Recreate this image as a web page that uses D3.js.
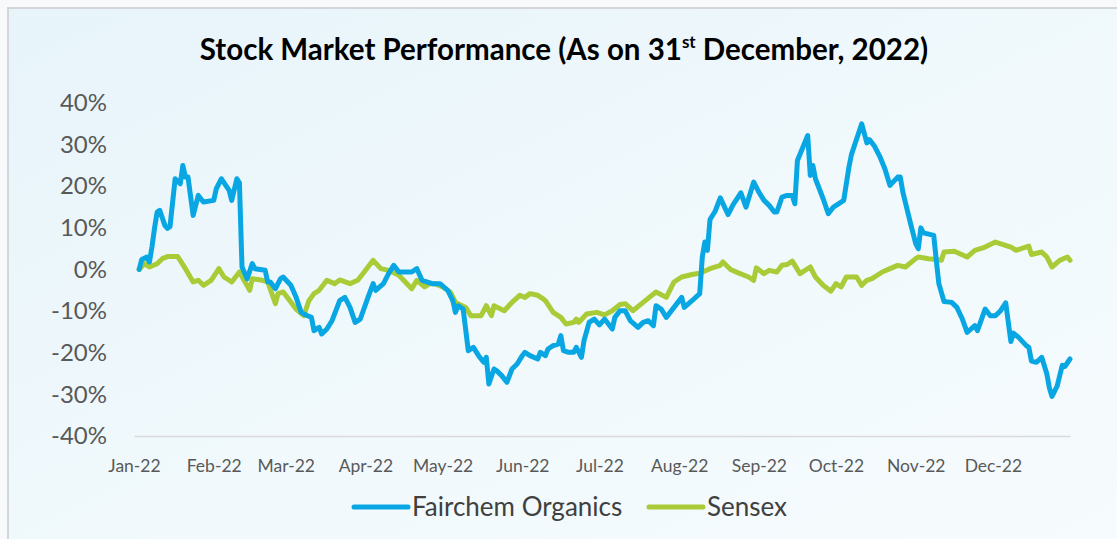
<!DOCTYPE html>
<html>
<head>
  <meta charset="utf-8">
  <style>
    body { margin: 0; background: #fff; font-family: 'Lato', sans-serif; }
    .tick text { fill: #595959; }
    .title { font-weight: bold; fill: #000; text-anchor: middle; }
    .legend-text { fill: #404040; font-size: 26px; }
  </style>
</head>
<body>
  <script src="https://cdn.jsdelivr.net/npm/d3@7"></script>
  <script>

  // data (returns in %)
  var months = ["Jan-22","Feb-22","Mar-22","Apr-22","May-22","Jun-22","Jul-22","Aug-22","Sep-22","Oct-22","Nov-22","Dec-22"]
  var yTicks = [-40,-30,-20,-10,0,10,20,30,40]
  var seriesNames = ["Fairchem Organics","Sensex"]

  var fairchem = [
    ["2022-01-03",0.0],["2022-01-04",2.4],["2022-01-06",3.0],["2022-01-07",1.8],["2022-01-08",5.5],["2022-01-09",10.0],
    ["2022-01-10",13.8],["2022-01-11",14.2],["2022-01-13",10.6],["2022-01-14",9.9],["2022-01-15",10.3],["2022-01-17",21.8],
    ["2022-01-19",20.6],["2022-01-20",25.0],["2022-01-21",22.2],["2022-01-22",22.2],["2022-01-24",13.0],["2022-01-26",17.8],
    ["2022-01-28",16.2],["2022-02-01",16.6],["2022-02-02",19.4],["2022-02-04",21.8],["2022-02-07",19.0],["2022-02-08",16.6],
    ["2022-02-10",21.8],["2022-02-11",20.8],["2022-02-12",0.6],["2022-02-14",-2.2],["2022-02-16",1.4],["2022-02-17",0.2],
    ["2022-02-21",-0.2],["2022-02-22",-3.0],["2022-02-23",-3.0],["2022-02-25",-4.6],["2022-02-27",-2.2],["2022-02-28",-1.8],
    ["2022-03-03",-3.8],["2022-03-05",-6.6],["2022-03-07",-10.3],["2022-03-09",-11.0],["2022-03-11",-11.5],["2022-03-12",-14.7],
    ["2022-03-14",-13.9],["2022-03-15",-15.5],["2022-03-17",-14.3],["2022-03-19",-12.3],["2022-03-22",-7.5],["2022-03-24",-6.7],
    ["2022-03-26",-9.1],["2022-03-28",-12.7],["2022-03-30",-11.9],["2022-04-02",-6.7],["2022-04-04",-3.4],["2022-04-05",-5.0],
    ["2022-04-08",-3.4],["2022-04-10",-1.0],["2022-04-12",1.0],["2022-04-14",-0.6],["2022-04-19",-0.6],["2022-04-21",0.2],
    ["2022-04-23",-2.6],["2022-04-27",-3.4],["2022-04-30",-3.4],["2022-05-03",-5.0],["2022-05-05",-7.5],["2022-05-06",-10.3],
    ["2022-05-07",-8.7],["2022-05-09",-9.5],["2022-05-11",-19.5],["2022-05-13",-18.7],["2022-05-15",-20.7],["2022-05-17",-22.3],
    ["2022-05-18",-21.1],["2022-05-19",-27.5],["2022-05-21",-23.9],["2022-05-22",-24.3],["2022-05-24",-25.5],["2022-05-26",-27.1],
    ["2022-05-28",-23.9],["2022-05-30",-22.7],["2022-06-01",-20.7],["2022-06-02",-19.9],["2022-06-04",-20.7],["2022-06-07",-21.5],
    ["2022-06-08",-19.9],["2022-06-10",-20.7],["2022-06-11",-19.1],["2022-06-13",-18.3],["2022-06-15",-17.9],["2022-06-16",-15.9],
    ["2022-06-17",-19.5],["2022-06-19",-19.9],["2022-06-21",-19.9],["2022-06-22",-18.7],["2022-06-24",-21.1],["2022-06-25",-17.1],
    ["2022-06-27",-12.7],["2022-06-29",-11.9],["2022-07-01",-13.3],["2022-07-03",-11.9],["2022-07-06",-14.3],["2022-07-07",-11.5],
    ["2022-07-09",-9.9],["2022-07-11",-9.9],["2022-07-13",-12.3],["2022-07-16",-13.9],["2022-07-18",-12.7],["2022-07-20",-12.3],
    ["2022-07-22",-13.5],["2022-07-23",-8.7],["2022-07-25",-9.5],["2022-07-27",-11.5],["2022-07-30",-9.1],["2022-08-02",-6.7],
    ["2022-08-03",-9.1],["2022-08-06",-7.5],["2022-08-09",-5.8],["2022-08-10",3.0],["2022-08-11",6.6],["2022-08-12",4.6],
    ["2022-08-13",12.0],["2022-08-15",14.0],["2022-08-17",17.2],["2022-08-20",13.2],["2022-08-22",15.6],["2022-08-25",18.4],
    ["2022-08-27",15.0],["2022-08-30",21.0],["2022-09-01",18.6],["2022-09-03",16.6],["2022-09-05",15.4],["2022-09-07",13.8],
    ["2022-09-08",13.8],["2022-09-10",17.4],["2022-09-12",17.8],["2022-09-14",17.8],["2022-09-15",15.8],["2022-09-16",26.2],
    ["2022-09-20",32.2],["2022-09-21",22.6],["2022-09-22",25.0],["2022-09-23",21.8],["2022-09-26",17.0],["2022-09-28",13.4],
    ["2022-09-30",15.0],["2022-10-03",16.2],["2022-10-04",16.6],["2022-10-06",24.5],["2022-10-07",27.6],["2022-10-11",35.0],
    ["2022-10-13",30.4],["2022-10-14",31.2],["2022-10-16",29.6],["2022-10-18",27.2],["2022-10-20",24.2],["2022-10-22",20.2],
    ["2022-10-25",22.2],["2022-10-26",22.2],["2022-10-27",18.6],["2022-10-30",11.0],["2022-11-01",6.2],["2022-11-02",5.0],
    ["2022-11-03",10.0],["2022-11-04",8.8],["2022-11-08",8.2],["2022-11-09",2.2],["2022-11-10",-3.4],["2022-11-12",-7.7],
    ["2022-11-15",-7.9],["2022-11-17",-9.1],["2022-11-19",-11.7],["2022-11-21",-15.1],["2022-11-24",-13.5],["2022-11-25",-14.7],
    ["2022-11-28",-9.5],["2022-11-30",-11.1],["2022-12-02",-11.1],["2022-12-04",-9.9],["2022-12-06",-8.0],["2022-12-08",-17.3],
    ["2022-12-09",-15.3],["2022-12-11",-16.3],["2022-12-14",-18.3],["2022-12-15",-18.7],["2022-12-16",-22.0],["2022-12-18",-22.3],
    ["2022-12-20",-21.1],["2022-12-22",-25.1],["2022-12-23",-28.5],["2022-12-24",-30.5],["2022-12-26",-28.0],["2022-12-28",-23.0],
    ["2022-12-29",-23.3],["2022-12-31",-21.5]
  ]

  var sensex = [
    ["2022-01-03",0.0],["2022-01-05",1.4],["2022-01-07",0.6],["2022-01-10",1.4],["2022-01-12",2.6],["2022-01-14",3.1],
    ["2022-01-18",3.1],["2022-01-21",0.2],["2022-01-24",-3.0],["2022-01-26",-2.6],["2022-01-28",-3.8],["2022-01-31",-2.6],
    ["2022-02-03",0.2],["2022-02-05",-1.8],["2022-02-08",-3.0],["2022-02-11",-0.6],["2022-02-15",-5.0],["2022-02-16",-2.2],
    ["2022-02-20",-2.6],["2022-02-22",-3.0],["2022-02-25",-8.2],["2022-02-26",-5.8],["2022-02-28",-5.4],["2022-03-02",-7.0],
    ["2022-03-05",-9.5],["2022-03-08",-11.1],["2022-03-10",-7.5],["2022-03-12",-5.8],["2022-03-14",-5.0],["2022-03-17",-2.6],
    ["2022-03-20",-3.4],["2022-03-22",-2.5],["2022-03-26",-3.4],["2022-03-29",-2.6],["2022-03-31",-1.0],["2022-04-04",2.2],
    ["2022-04-07",0.2],["2022-04-10",-0.2],["2022-04-14",-1.4],["2022-04-19",-4.6],["2022-04-21",-2.6],["2022-04-24",-4.2],
    ["2022-04-26",-3.4],["2022-04-28",-3.4],["2022-05-01",-4.2],["2022-05-04",-5.4],["2022-05-06",-7.9],["2022-05-10",-9.1],
    ["2022-05-12",-11.1],["2022-05-16",-11.1],["2022-05-18",-8.7],["2022-05-20",-11.1],["2022-05-21",-8.7],["2022-05-25",-9.9],
    ["2022-05-28",-7.9],["2022-05-31",-6.2],["2022-06-02",-6.7],["2022-06-04",-5.8],["2022-06-07",-6.2],["2022-06-09",-7.0],
    ["2022-06-10",-7.5],["2022-06-13",-10.3],["2022-06-16",-11.5],["2022-06-18",-13.1],["2022-06-21",-12.7],["2022-06-22",-11.9],
    ["2022-06-23",-12.7],["2022-06-26",-10.7],["2022-06-30",-10.3],["2022-07-03",-10.9],["2022-07-06",-9.9],["2022-07-09",-8.4],
    ["2022-07-11",-8.2],["2022-07-14",-9.9],["2022-07-18",-7.9],["2022-07-23",-5.4],["2022-07-27",-6.7],["2022-07-30",-3.0],
    ["2022-08-02",-1.8],["2022-08-06",-1.2],["2022-08-09",-0.9],["2022-08-13",0.2],["2022-08-17",1.0],["2022-08-18",1.8],
    ["2022-08-21",0.0],["2022-08-24",-0.8],["2022-08-28",-1.8],["2022-08-30",-2.6],["2022-08-31",0.4],["2022-09-03",-1.0],
    ["2022-09-05",-0.2],["2022-09-08",-0.6],["2022-09-10",1.0],["2022-09-12",1.2],["2022-09-14",2.0],["2022-09-17",-1.0],
    ["2022-09-21",0.6],["2022-09-23",-1.8],["2022-09-26",-3.8],["2022-09-29",-5.2],["2022-10-01",-3.4],["2022-10-03",-4.2],
    ["2022-10-05",-1.8],["2022-10-09",-1.8],["2022-10-11",-3.8],["2022-10-13",-2.6],["2022-10-15",-2.2],["2022-10-19",-0.6],
    ["2022-10-22",0.2],["2022-10-25",1.0],["2022-10-28",0.6],["2022-11-01",2.6],["2022-11-02",3.0],["2022-11-06",2.6],
    ["2022-11-09",2.4],["2022-11-11",2.2],["2022-11-12",4.2],["2022-11-16",4.4],["2022-11-21",3.0],["2022-11-24",4.6],
    ["2022-11-28",5.4],["2022-12-02",6.6],["2022-12-05",6.0],["2022-12-08",5.4],["2022-12-10",4.6],["2022-12-15",5.6],
    ["2022-12-16",3.6],["2022-12-20",4.2],["2022-12-22",3.0],["2022-12-24",0.6],["2022-12-27",2.2],["2022-12-30",3.0],
    ["2022-12-31",2.2]
  ]

  var colors = ["#08a7e4", "#a9cb37"]

  // set constants
  var width = 1117
  var height = 539
  var parse = d3.timeParse("%Y-%m-%d")
  var x = d3.scaleTime()
    .domain([parse("2022-01-01"), parse("2022-12-31")])
    .range([134, 1070])
  var y = d3.scaleLinear()
    .domain([-40, 40])
    .range([436, 103])

  var svg = d3.select("body").append("svg")
    .attr("width", width)
    .attr("height", height)

  // background panel
  var defs = svg.append("defs")
  var grad = defs.append("linearGradient")
    .attr("id", "bg")
    .attr("x1", 0).attr("y1", 0).attr("x2", 1).attr("y2", 1)
  grad.append("stop").attr("offset", "0%").attr("stop-color", "#e7f4fa")
  grad.append("stop").attr("offset", "55%").attr("stop-color", "#f1f9fc")
  grad.append("stop").attr("offset", "100%").attr("stop-color", "#f6fbfd")

  svg.append("rect")
    .attr("x", 0).attr("y", 0)
    .attr("width", width).attr("height", height)
    .attr("fill", "#f7f9fa")
  svg.append("rect")
    .attr("x", 8).attr("y", 8)
    .attr("width", width).attr("height", height)
    .attr("fill", "url(#bg)")
    .attr("stroke", "#d3d6d8")
    .attr("stroke-width", 2)

  // title
  var title = svg.append("text")
    .attr("class", "title")
    .attr("x", 564)
    .attr("y", 60)
    .style("font-size", "29.5px")
  title.append("tspan").text("Stock Market Performance (As on 31")
  title.append("tspan").text("st").attr("dy", -12).style("font-size", "17px")
  title.append("tspan").text(" December, 2022)").attr("dy", 12)

  // y axis labels
  var yAxis = svg.append("g")
    .attr("transform", "translate(134,0)")
    .call(d3.axisLeft(y).tickValues(yTicks).tickSize(0).tickPadding(27)
      .tickFormat(function(d) { return d + "%" }))
  yAxis.select(".domain").remove()
  yAxis.selectAll("text").style("font-size", "24px").style("font-family", "Lato")

  // x axis
  var xAxis = svg.append("g")
    .attr("transform", "translate(0," + y(-40) + ")")
    .call(d3.axisBottom(x)
      .tickValues(months.map(function(m, i) { return new Date(2022, i, 1) }))
      .tickSize(0).tickPadding(24)
      .tickFormat(function(d, i) { return months[i] }))
  xAxis.select(".domain").attr("stroke", "#d9d9d9").attr("stroke-width", 1.5)
  xAxis.selectAll("text").style("font-size", "17.5px").style("font-family", "Lato")

  // lines
  var line = d3.line()
    .x(function(d) { return x(parse(d[0])) })
    .y(function(d) { return y(d[1]) })

  ;[sensex, fairchem].forEach(function(s, i) {
    svg.append("path")
      .datum(s)
      .attr("fill", "none")
      .attr("stroke", colors[1 - i])
      .attr("stroke-width", 5)
      .attr("stroke-linejoin", "round")
      .attr("stroke-linecap", "round")
      .attr("d", line)
  })

  // legend
  var legendX = [354, 649]
  var legend = svg.append("g")
  seriesNames.forEach(function(name, i) {
    legend.append("line")
      .attr("x1", legendX[i]).attr("x2", legendX[i] + 54)
      .attr("y1", 507).attr("y2", 507)
      .attr("stroke", colors[i])
      .attr("stroke-width", 5)
      .attr("stroke-linecap", "round")
    legend.append("text")
      .attr("class", "legend-text")
      .attr("x", legendX[i] + 58)
      .attr("y", 516)
      .text(name)
  })
  </script>
</body>
</html>
